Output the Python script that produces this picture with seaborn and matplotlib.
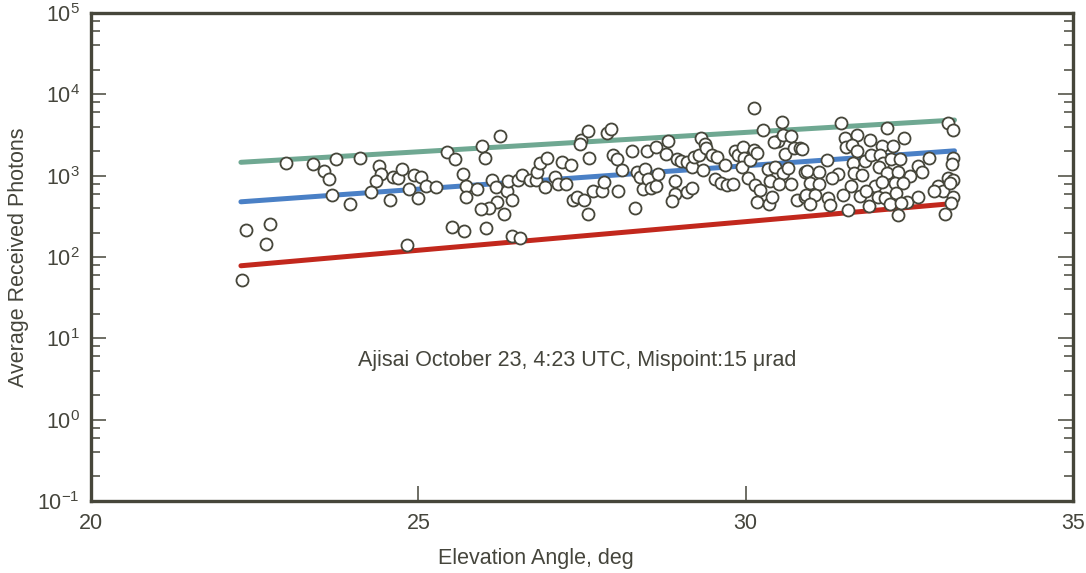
import numpy as np
import pandas as pd
import matplotlib
matplotlib.use("Agg")
import matplotlib.pyplot as plt
import matplotlib.ticker as mticker
import seaborn as sns

# --- Data ---
# elevation angle (deg) and average received photons for each pass sample
elev = [
    22.98, 23.39, 23.74, 24.11, 23.56, 23.64, 24.40, 24.43, 24.35, 24.61,
    24.69, 24.75, 24.93, 25.04, 24.86, 25.00, 24.27, 24.56, 23.68, 23.96,
    22.36, 22.74, 22.67, 24.82, 22.30,
    25.44, 25.56, 25.97, 26.25, 26.02, 25.11, 25.27, 25.69, 25.73, 25.73,
    25.89, 26.12, 26.19, 26.35, 26.37, 26.52, 26.59, 26.71, 26.79, 26.82,
    26.86, 26.97, 26.94, 27.09, 27.13, 27.26, 27.19, 27.33, 27.61, 27.49,
    27.47, 27.59, 27.88, 27.95, 27.97, 28.03, 27.37, 27.42, 27.53, 27.67,
    27.81, 27.84, 28.05, 27.59, 26.43, 26.20, 26.08, 25.96, 26.31, 25.51,
    25.70, 26.04, 26.43, 26.55,
    28.11, 28.27, 28.31, 28.34, 28.38, 28.43, 28.47, 28.50, 28.51, 28.56,
    28.63, 28.66, 28.63, 28.82, 28.79, 28.92, 28.92, 28.88, 28.95, 29.02,
    29.10, 29.11, 29.18, 29.18, 29.21, 29.29, 29.32, 29.38, 29.40, 29.35,
    29.48, 29.53, 29.57, 29.63, 29.69, 29.71, 29.80, 29.83, 29.89, 29.96,
    29.98, 29.95, 30.04, 30.07, 30.12, 30.13, 30.18, 30.14, 30.22, 30.18,
    30.27, 30.34, 30.35, 30.40, 30.37, 30.45, 30.49, 30.44, 30.55, 30.57,
    30.60, 30.57, 30.51, 30.65, 30.69, 30.70, 30.74, 30.83, 30.79, 30.91,
    30.91,
    31.46, 32.16, 33.09, 33.16, 31.52, 31.70, 31.90, 31.54, 31.62, 31.70,
    32.08, 32.25, 32.42, 30.86, 31.24, 31.64, 31.82, 31.91, 32.05, 32.10,
    32.22, 32.36, 32.80, 33.17, 33.15, 30.93, 31.12, 31.41, 31.32, 31.66,
    31.77, 32.03, 32.16, 32.33, 32.51, 32.64, 32.70, 32.94, 33.01, 33.09,
    33.17, 33.12, 30.98, 31.12, 31.61, 31.97, 32.09, 32.28, 32.41, 30.92,
    31.06, 31.26, 31.49, 31.75, 31.84, 32.02, 32.13, 32.30, 32.47, 32.64,
    32.87, 33.16, 30.98, 31.29, 31.57, 31.89, 32.20, 32.38, 33.13, 32.33,
    33.05,
]
photons = [
    1420, 1410, 1590, 1660, 1140, 920, 1330, 1040, 870, 960,
    940, 1220, 1020, 970, 680, 530, 625, 500, 580, 450,
    213, 257, 145, 142, 52,
    1940, 1620, 2320, 3100, 1660, 740, 730, 1050, 750, 540,
    680, 890, 720, 650, 850, 890, 1030, 880, 880, 1100,
    1420, 1660, 730, 960, 800, 790, 1470, 1350, 1660, 2720,
    2430, 3580, 3320, 3750, 1800, 1590, 500, 550, 500, 640,
    650, 840, 650, 340, 500, 480, 405, 385, 340, 234,
    209, 230, 183, 170,
    1160, 2010, 405, 1100, 970, 690, 1210, 2010, 910, 710,
    750, 1040, 2270, 2670, 1830, 860, 600, 490, 1600, 1520,
    1490, 625, 710, 1290, 1700, 1800, 2890, 2430, 2170, 1160,
    1800, 900, 1700, 820, 1350, 770, 780, 2010, 1800, 2270,
    1660, 1290, 930, 1560, 2070, 6750, 1890, 770, 670, 480,
    3650, 1210, 445, 550, 860, 1290, 2670, 2580, 4620, 3160,
    1830, 1070, 780, 1250, 3100, 780, 2210, 2170, 500, 1120,
    550,
    4490, 3890, 4410, 3650, 2890, 3140, 2750, 2270, 2390, 2010,
    2320, 2320, 2910, 2110, 1560, 1420, 1530, 1800, 1800, 1420,
    1590, 1590, 1640, 1640, 1390, 1140, 1120, 1050, 930, 1090,
    1020, 1290, 1070, 1100, 1000, 1320, 1120, 750, 650, 930,
    890, 820, 810, 790, 750, 750, 840, 820, 820, 580,
    580, 535, 580, 565, 640, 540, 530, 610, 480, 540,
    640, 550, 450, 435, 380, 425, 450, 460, 460, 330,
    340,
]

# link-budget model curves (end points of each straight log-linear line)
model_elev = [22.29, 33.19]
model_upper = [1460, 4830]
model_mid = [477, 2020]
model_lower = [78, 456]
model_colors = {"upper": "#6fa892", "mid": "#4a80c6", "lower": "#c2281d"}

caption = "Ajisai October 23, 4:23 UTC, Mispoint:15 \u03bcrad"

obs = pd.DataFrame({"elev": elev, "photons": photons})
model = pd.DataFrame({
    "elev": model_elev * 3,
    "photons": model_upper + model_mid + model_lower,
    "curve": ["upper"] * 2 + ["mid"] * 2 + ["lower"] * 2,
})

# --- Style ---
sns.set_theme(style="ticks")
plt.rcParams["font.family"] = ["Liberation Sans", "DejaVu Sans"]
ink = "#46463a"
txt = "#45453c"
fs = 15.5

fig = plt.figure(figsize=(10.86, 5.73), dpi=100)
ax = fig.add_axes([0.0838, 0.1257, 0.9042, 0.8516])

sns.lineplot(data=model, x="elev", y="photons", hue="curve",
             palette=model_colors, linewidth=3.6, legend=False, ax=ax,
             zorder=2)
sns.scatterplot(data=obs, x="elev", y="photons", s=75, color="white",
                edgecolor=ink, linewidth=1.3, ax=ax, zorder=3)

ax.set_yscale("log")
ax.set_xlim(20, 35)
ax.set_ylim(0.1, 1e5)
ax.set_xticks([20, 25, 30, 35])
ax.xaxis.set_minor_locator(mticker.NullLocator())
ax.yaxis.set_major_locator(mticker.LogLocator(base=10, numticks=10))
ax.yaxis.set_minor_locator(mticker.LogLocator(base=10, subs=[2, 4, 6, 8], numticks=10))
ax.yaxis.set_minor_formatter(mticker.NullFormatter())

for side in ["left", "right", "top", "bottom"]:
    ax.spines[side].set_visible(True)
    ax.spines[side].set_color(ink)
    ax.spines[side].set_linewidth(2.4)

ax.tick_params(axis="y", which="major", direction="in", length=11, width=1.1,
               color=ink, left=True, right=True, labelsize=fs, labelcolor=txt, pad=8)
ax.tick_params(axis="y", which="minor", direction="in", length=6.5, width=1.1,
               color=ink, left=True, right=True)
ax.tick_params(axis="x", which="major", direction="in", length=11, width=1.1,
               color=ink, bottom=True, top=False, labelsize=fs, labelcolor=txt, pad=9)

ax.set_xlabel("Elevation Angle, deg", fontsize=fs, color=txt)
ax.xaxis.set_label_coords(0.453, -0.096)
ax.set_ylabel("Average Received Photons", fontsize=fs, color=txt, labelpad=6)

ax.text(27.42, 5.3, caption, fontsize=fs, color=txt, ha="center", va="center")

fig.savefig("out.png", dpi=100)
